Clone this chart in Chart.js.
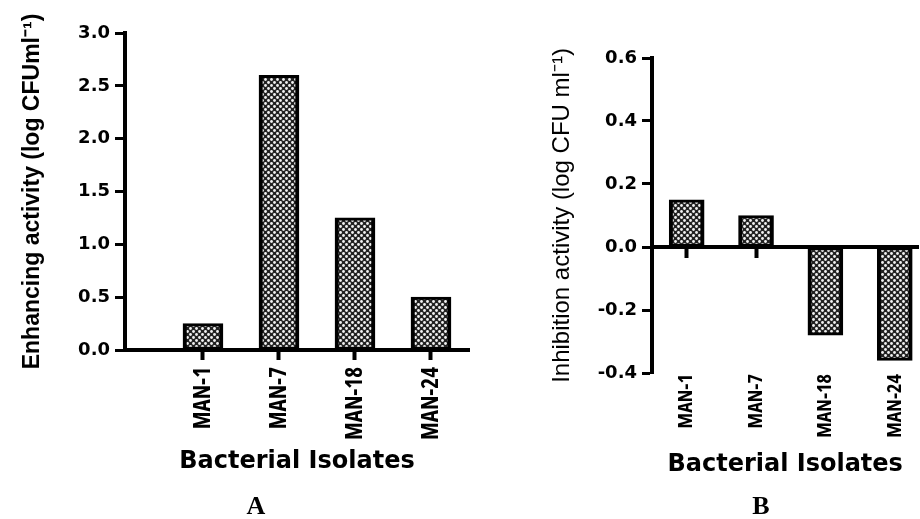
<!DOCTYPE html>
<html><head><meta charset="utf-8">
<script src="https://cdn.jsdelivr.net/npm/chart.js@4/dist/chart.umd.min.js"></script>
<style>
html,body{margin:0;padding:0;background:#fff;}
#wrap{position:relative;width:920px;height:519px;overflow:hidden;background:#fff;}
#cA{position:absolute;left:0;top:0;}
#cB{position:absolute;left:470px;top:0;}
.panel{position:absolute;top:493px;font:bold 26px 'Liberation Serif','Times New Roman',serif;color:#000;width:40px;text-align:center;line-height:26px;}
</style></head><body>
<div id="wrap">
<canvas id="cA" width="472" height="519"></canvas>
<canvas id="cB" width="450" height="519"></canvas>
<div class="panel" style="left:236px">A</div>
<div class="panel" style="left:741px">B</div>
</div>
<script>
// ---- data ----
const categories = ['MAN-1', 'MAN-7', 'MAN-18', 'MAN-24'];
const enhancingValues = [0.25, 2.6, 1.25, 0.5];
const inhibitionValues = [0.15, 0.1, -0.28, -0.36];
const enhancingTicks = [0, 0.5, 1.0, 1.5, 2.0, 2.5, 3.0];
const inhibitionTicks = [-0.4, -0.2, 0, 0.2, 0.4, 0.6];
const titleA = 'Enhancing activity (log CFUml\u207B\u00B9)';
const titleB = 'Inhibition activity (log CFU ml\u207B\u00B9)';
const xTitle = 'Bacterial Isolates';

// ---- styling helpers ----
// pick the narrowest installed bold face for the rotated category labels
const candidates = [
  { weight: 'bold', family: "'Liberation Sans Narrow'" },
  { weight: 'bold', family: "'Roboto Condensed'" },
  { weight: 'bold', family: "'DejaVu Sans Condensed'" },
  { weight: 'bold', family: "'Noto Sans Condensed'" },
  { weight: 'bold condensed', family: "'Noto Sans'" },
  { weight: 'bold condensed', family: "'Open Sans'" },
  { weight: 'bold', family: "'Liberation Sans'" }
];
const mg = document.createElement('canvas').getContext('2d');
function measure(c, text) {
  mg.font = c.weight + ' 100px ' + c.family;
  const m = mg.measureText(text);
  return { w: m.width, a: mg.measureText('M').actualBoundingBoxAscent };
}
let narrow = candidates[candidates.length - 1], bestRatio = Infinity;
candidates.forEach(c => {
  const m = measure(c, 'MAN-24');
  const r = m.w / m.a;
  if (r < bestRatio - 0.01) { bestRatio = r; narrow = c; }
});
function fitSize(c, text, target) {
  return Math.round(100 * target / measure(c, text).w * 10) / 10;
}
const sizeXA = fitSize(narrow, 'MAN-24', 73);
const sizeXB = fitSize(narrow, 'MAN-24', 64);

function makePattern() {
  const c = document.createElement('canvas'); c.width = 6; c.height = 6;
  const g = c.getContext('2d');
  g.fillStyle = '#222'; g.fillRect(0, 0, 6, 6);
  g.fillStyle = '#f2f2f2';
  [[1.5, 1.5], [4.5, 4.5]].forEach(([x, y]) => { g.beginPath(); g.arc(x, y, 1.4, 0, Math.PI * 2); g.fill(); });
  return document.createElement('canvas').getContext('2d').createPattern(c, 'repeat');
}
const pattern = makePattern();

Chart.defaults.font.family = "'Liberation Sans', Arial, sans-serif";
Chart.defaults.color = '#000';

function catTicks(s) { s.ticks = categories.map((c, i) => ({ value: i })); }

function barDataset(values, thickness) {
  return {
    data: values.map((v, i) => ({ x: i, y: v })),
    backgroundColor: pattern,
    borderColor: '#000',
    borderWidth: { top: 3, bottom: 3, left: 4, right: 4 },
    borderSkipped: false,
    barThickness: thickness
  };
}

const common = {
  responsive: false,
  animation: false,
  devicePixelRatio: 1,
  plugins: { legend: { display: false }, tooltip: { enabled: false } }
};

// ---- Chart A ----
new Chart(document.getElementById('cA'), {
  type: 'bar',
  data: { datasets: [barDataset(enhancingValues, 40)] },
  options: Object.assign({}, common, {
    layout: { padding: { left: 0, top: 33, right: 3, bottom: 39 } },
    scales: {
      x: {
        type: 'linear', min: -1.026, max: 3.5, offset: false,
        afterBuildTicks: catTicks,
        afterFit: s => { s.height = 130; },
        ticks: {
          callback: v => categories[v], minRotation: 90, maxRotation: 90, autoSkip: false,
          padding: 7, color: '#000', font: { family: narrow.family, weight: narrow.weight, size: sizeXA }
        },
        grid: { display: true, offset: false, drawOnChartArea: false, drawTicks: true, tickLength: 10, tickWidth: 4, tickColor: '#000' },
        border: { display: true, width: 4, color: '#000' },
        title: { display: true, text: xTitle, color: '#000', padding: { top: 0, bottom: 6 },
          font: { family: "'DejaVu Sans', sans-serif", weight: 'bold', size: 24, lineHeight: 1 } }
      },
      y: {
        min: 0, max: 3,
        afterBuildTicks: s => { s.ticks = enhancingTicks.map(v => ({ value: v })); },
        afterFit: s => { s.width = 125; },
        ticks: { callback: v => Number(v).toFixed(1), padding: 5, color: '#000',
          font: { family: "'DejaVu Sans', sans-serif", weight: 'bold', size: 18 } },
        grid: { drawOnChartArea: false, tickLength: 10, tickWidth: 3, tickColor: '#000' },
        border: { display: true, width: 4, color: '#000' },
        title: { display: true, text: titleA, color: '#000', padding: { top: 21.5, bottom: 0 },
          font: { weight: 'bold', size: 23, lineHeight: 1 } }
      }
    }
  })
});

// ---- Chart B ----
new Chart(document.getElementById('cB'), {
  type: 'bar',
  data: { datasets: [barDataset(inhibitionValues, 35)] },
  options: Object.assign({}, common, {
    layout: { padding: { left: 0, top: 58, right: 0, bottom: 36 } },
    scales: {
      x: {
        type: 'linear', min: -0.5, max: 3.34, offset: false,
        afterBuildTicks: catTicks,
        afterFit: s => { s.height = 110; },
        ticks: {
          callback: v => categories[v], minRotation: 90, maxRotation: 90, autoSkip: false,
          padding: 1, color: '#000', font: { family: narrow.family, weight: narrow.weight, size: sizeXB }
        },
        grid: { display: false, offset: false, drawTicks: false },
        border: { display: false },
        title: { display: true, text: xTitle, color: '#000', padding: { top: 0, bottom: 6 },
          font: { family: "'DejaVu Sans', sans-serif", weight: 'bold', size: 24, lineHeight: 1 } }
      },
      x2: {
        type: 'linear', axis: 'x', position: { y: 0 }, min: -0.5, max: 3.34, offset: false,
        afterBuildTicks: catTicks,
        ticks: { display: false },
        grid: { display: true, offset: false, drawOnChartArea: false, drawTicks: true, tickLength: 9, tickWidth: 4, tickColor: '#000' },
        border: { display: true, width: 4, color: '#000' }
      },
      y: {
        min: -0.4, max: 0.6,
        afterBuildTicks: s => { s.ticks = inhibitionTicks.map(v => ({ value: v })); },
        afterFit: s => { s.width = 182; },
        ticks: { callback: v => Number(v).toFixed(1), padding: 5, color: '#000',
          font: { family: "'DejaVu Sans', sans-serif", weight: 'bold', size: 18 } },
        grid: { drawOnChartArea: false, tickLength: 10, tickWidth: 3, tickColor: '#000' },
        border: { display: true, width: 4, color: '#000' },
        title: { display: true, text: titleB, color: '#000', padding: { top: 80, bottom: 0 },
          font: { weight: 'normal', size: 24, lineHeight: 1 } }
      }
    }
  })
});
</script>
</body></html>
